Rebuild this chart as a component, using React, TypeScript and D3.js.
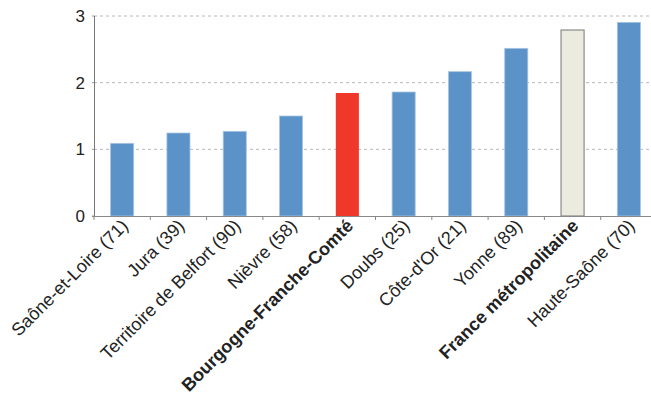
import React from "react";
import * as d3 from "d3";

const categories = [
  "Saône-et-Loire (71)",
  "Jura (39)",
  "Territoire de Belfort (90)",
  "Nièvre (58)",
  "Bourgogne-Franche-Comté",
  "Doubs (25)",
  "Côte-d'Or (21)",
  "Yonne (89)",
  "France métropolitaine",
  "Haute-Saône (70)",
];
const values = [1.09, 1.245, 1.27, 1.5, 1.845, 1.86, 2.165, 2.515, 2.79, 2.905];
const kinds = ["dept", "dept", "dept", "dept", "region", "dept", "dept", "dept", "france", "dept"];
const yTicks = [0, 1, 2, 3];

const W = 651;
const H = 399;

export default function App() {
  const x = d3
    .scaleBand<string>()
    .domain(categories)
    .range([94, 657])
    .paddingInner(0.59)
    .paddingOuter(0.295);
  const y = d3.scaleLinear().domain([0, 3]).range([216, 16]);
  const step = x.step();
  const font = "'Liberation Sans', Arial, Helvetica, sans-serif";

  return (
    <svg
      width={W}
      height={H}
      style={{ position: "absolute", left: 0, top: 0, background: "#fff" }}
      fontFamily={font}
    >
      {/* grid */}
      {yTicks.filter((t) => t > 0).map((t) => (
        <line
          key={t}
          x1={94}
          x2={W}
          y1={y(t)}
          y2={y(t)}
          stroke="#b8b8b8"
          strokeDasharray="3,3"
          strokeWidth={1}
        />
      ))}
      {/* bars */}
      {categories.map((c, i) => {
        const k = kinds[i];
        const fill = k === "region" ? "#ef3829" : k === "france" ? "#ebebe0" : "#5b93c8";
        const stroke = k === "region" ? "none" : k === "france" ? "#777" : "#a8c5e4";
        return (
          <rect
            key={c}
            x={x(c)!}
            y={y(values[i])}
            width={x.bandwidth()}
            height={y(0) - y(values[i])}
            fill={fill}
            stroke={stroke}
            strokeWidth={k === "france" ? 1 : 0.8}
          />
        );
      })}
      {/* y axis */}
      <line x1={94.5} x2={94.5} y1={16} y2={216} stroke="#777" strokeWidth={1} />
      {yTicks.map((t) => (
        <line key={"t" + t} x1={92} x2={94} y1={y(t)} y2={y(t)} stroke="#999" />
      ))}
      {yTicks.map((t) => (
        <text
          key={t}
          x={85}
          y={y(t) + 6}
          textAnchor="end"
          fontSize={17}
          fill="#222"
        >
          {t}
        </text>
      ))}
      {/* x axis */}
      <line x1={92} x2={W} y1={216.5} y2={216.5} stroke="#888" strokeWidth={1.2} />
      {d3.range(categories.length + 1).map((i) => {
        const tx = 94 + i * step;
        return <line key={i} x1={tx} x2={tx} y1={216} y2={220} stroke="#888" />;
      })}
      {categories.map((c, i) => {
        const cx = x(c)! + x.bandwidth() / 2;
        const bold = kinds[i] !== "dept";
        return (
          <text
            key={c}
            transform={`translate(${cx + 7},${227}) rotate(-45)`}
            textAnchor="end"
            fontSize={18}
            fontWeight={bold ? "bold" : "normal"}
            fill="#222"
          >
            {c}
          </text>
        );
      })}
    </svg>
  );
}
